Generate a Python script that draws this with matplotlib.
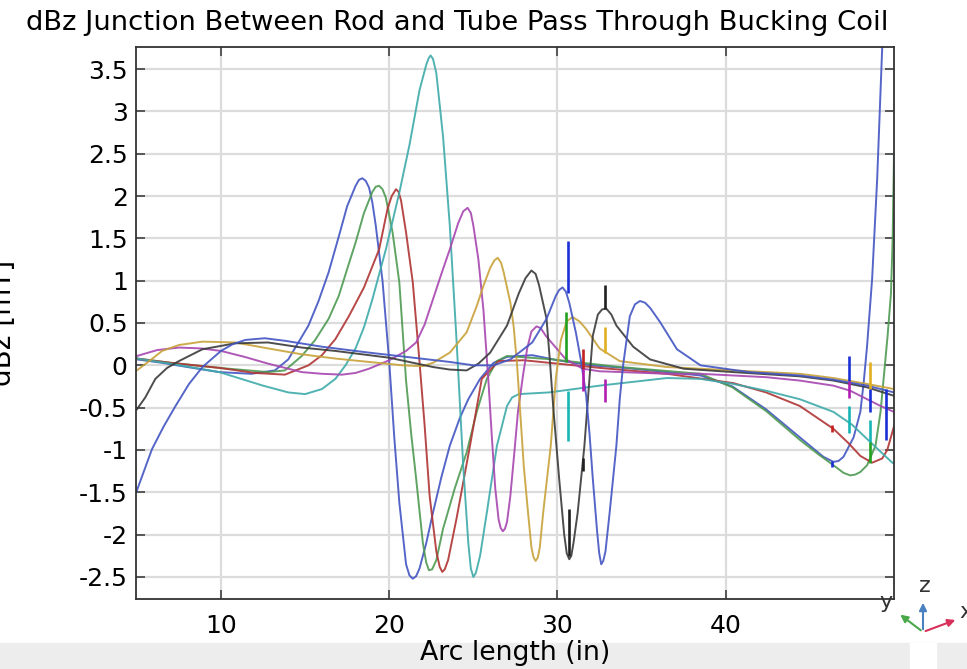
"""
dBz along the arc for the rod/tube junction as it passes through the bucking coil.
"""

import matplotlib
matplotlib.use("Agg")
import matplotlib.pyplot as plt
from matplotlib.patches import FancyArrowPatch, Rectangle

# one curve per junction position, arc length in inches, dBz in mT
CURVE1_ARC = [5, 6.5, 8, 9.9, 11.8, 13.2, 14.0, 14.6, 15.2, 15.8, 16.4, 17.0, 17.5,
              18.0, 18.2, 18.4, 18.6, 18.8, 19.0, 19.2, 19.6, 20.0, 20.3, 20.6, 21.0,
              21.2, 21.4, 21.6, 21.8, 22.2, 22.6, 23.1, 23.6, 24.2, 24.7, 25.4, 26.2,
              27.0, 28.5, 30.0, 32.0, 34.0, 36.5, 38.5, 40.4, 42.4, 44.4, 45.8, 46.4,
              46.7, 47.0, 47.6, 48.0, 48.2, 48.4, 48.7, 49.0, 49.3, 49.4]
CURVE1_DBZ = [0.07, 0.03, -0.02, -0.08, -0.10, -0.06, 0.07, 0.27, 0.47, 0.76, 1.10,
              1.52, 1.88, 2.12, 2.19, 2.21, 2.18, 2.10, 1.92, 1.65, 1.00, 0.04, -0.85,
              -1.62, -2.35, -2.48, -2.52, -2.49, -2.40, -2.10, -1.74, -1.32, -0.95,
              -0.62, -0.40, -0.16, 0.03, 0.10, 0.12, 0.06, 0.00, -0.03, -0.08, -0.12,
              -0.25, -0.52, -0.85, -1.08, -1.14, -1.13, -1.08, -0.85, -0.55, -0.20,
              0.23, 1.02, 2.20, 3.76, 4.40]

CURVE2_ARC = [5, 7, 9.9, 12.8, 13.8, 14.8, 15.6, 16.4, 17.0, 17.6, 18.0, 18.5, 19.0,
              19.2, 19.4, 19.6, 19.8, 20.2, 20.6, 21.0, 21.3, 21.6, 22.0, 22.2, 22.36,
              22.55, 22.8, 23.2, 23.9, 24.6, 25.2, 25.8, 26.4, 27.0, 29.7, 33.7, 38.5,
              40.4, 42.4, 44.4, 45.5, 46.4, 47.0, 47.4, 47.7, 48.0, 48.4, 48.9, 49.2,
              49.42, 49.62, 49.82, 49.92, 50.0]
CURVE2_DBZ = [0.08, 0.03, -0.03, -0.08, -0.06, 0.11, 0.30, 0.55, 0.82, 1.20, 1.45,
              1.80, 2.05, 2.11, 2.12, 2.08, 1.98, 1.57, 0.98, -0.18, -0.80, -1.34,
              -2.10, -2.33, -2.42, -2.41, -2.30, -1.93, -1.45, -1.03, -0.55, -0.16,
              0.05, 0.11, 0.07, -0.02, -0.10, -0.26, -0.54, -0.88, -1.05, -1.18,
              -1.27, -1.30, -1.29, -1.26, -1.18, -0.95, -0.55, -0.08, 0.35, 0.85, 1.50,
              2.50]

CURVE3_ARC = [5, 7, 9.9, 12.0, 13.8, 15.2, 16.0, 16.8, 17.6, 18.5, 19.4, 19.9, 20.15,
              20.4, 20.55, 20.7, 21.0, 21.4, 21.8, 22.1, 22.4, 22.8, 23.0, 23.15, 23.3,
              23.5, 24.0, 24.4, 24.8, 25.5, 26.5, 28.0, 30.0, 32.5, 36.5, 40.45, 42.4,
              44.4, 46.4, 47.3, 48.0, 48.7, 49.3, 49.6, 50.0]
CURVE3_DBZ = [0.08, 0.03, -0.03, -0.09, -0.11, 0.00, 0.12, 0.31, 0.58, 0.92, 1.37,
              1.85, 2.00, 2.08, 2.05, 1.95, 1.57, 0.98, 0.04, -0.70, -1.54, -2.20,
              -2.38, -2.44, -2.41, -2.30, -1.81, -1.38, -0.95, -0.16, 0.05, 0.06, 0.02,
              -0.03, -0.10, -0.21, -0.32, -0.48, -0.75, -0.92, -1.07, -1.15, -1.10,
              -1.00, -0.72]

CURVE4_ARC = [5, 7, 9.9, 12.5, 14.0, 15.0, 16.0, 16.8, 17.4, 18.0, 18.5, 19.0, 19.8,
              20.6, 21.2, 21.8, 22.2, 22.35, 22.46, 22.6, 22.8, 23.2, 23.6, 24.0, 24.4,
              24.7, 24.85, 25.0, 25.15, 25.4, 25.8, 26.4, 27.0, 27.3, 27.7, 29.5, 32.5,
              36.5, 38.5, 40.45, 42.4, 44.4, 46.4, 47.5, 48.4, 49.2, 49.9, 50.0]
CURVE4_DBZ = [0.08, 0.02, -0.08, -0.24, -0.32, -0.34, -0.28, -0.16, 0.00, 0.20, 0.45,
              0.78, 1.37, 2.04, 2.60, 3.25, 3.55, 3.63, 3.66, 3.62, 3.45, 2.70, 1.65,
              0.30, -1.20, -2.10, -2.40, -2.50, -2.45, -2.25, -1.74, -0.95, -0.48,
              -0.38, -0.34, -0.32, -0.24, -0.15, -0.16, -0.22, -0.30, -0.40, -0.55,
              -0.70, -0.87, -1.02, -1.15, -1.16]

CURVE5_ARC = [5, 6.2, 7.5, 8.8, 10.0, 11.4, 12.8, 14.8, 16.0, 17.2, 18.0, 18.8, 20.0,
              21.0, 21.6, 22.1, 22.6, 23.1, 23.6, 24.1, 24.4, 24.66, 24.85, 25.0, 25.3,
              25.6, 25.9, 26.1, 26.3, 26.5, 26.62, 26.75, 26.88, 27.0, 27.2, 27.45,
              27.65, 27.95, 28.2, 28.45, 28.75, 29.0, 29.3, 30.5, 31.5, 32.5, 36.5,
              38.5, 42.4, 44.4, 46.4, 47.4, 48.4, 49.2, 50.0]
CURVE5_DBZ = [0.11, 0.18, 0.21, 0.20, 0.17, 0.10, 0.02, -0.08, -0.10, -0.11, -0.09,
              -0.04, 0.06, 0.17, 0.27, 0.48, 0.78, 1.08, 1.37, 1.68, 1.82, 1.86, 1.80,
              1.65, 1.25, 0.65, -0.20, -0.85, -1.45, -1.82, -1.92, -1.96, -1.93, -1.85,
              -1.54, -1.00, -0.55, -0.12, 0.20, 0.40, 0.46, 0.44, 0.35, 0.07, -0.04,
              -0.07, -0.10, -0.10, -0.14, -0.18, -0.24, -0.30, -0.40, -0.48, -0.55]

CURVE6_ARC = [5, 5.8, 6.5, 7.5, 8.9, 10.85, 12.8, 14.8, 16.8, 18.8, 20.8, 22.0, 22.6,
              23.6, 24.6, 25.2, 25.6, 26.0, 26.25, 26.45, 26.65, 26.8, 27.2, 27.4, 27.6,
              27.8, 28.0, 28.25, 28.45, 28.58, 28.7, 28.83, 28.95, 29.15, 29.4, 29.6,
              29.9, 30.2, 30.55, 30.9, 31.3, 31.7, 32.5, 33.7, 36.5, 40.45, 44.4, 46.4,
              48.4, 50.0]
CURVE6_DBZ = [-0.06, 0.06, 0.17, 0.24, 0.28, 0.27, 0.20, 0.13, 0.08, 0.04, 0.00,
              -0.01, 0.03, 0.15, 0.39, 0.70, 0.94, 1.15, 1.24, 1.27, 1.21, 1.10, 0.74,
              0.45, 0.00, -0.60, -1.20, -1.74, -2.15, -2.27, -2.31, -2.27, -2.15,
              -1.74, -1.30, -0.95, -0.16, 0.30, 0.52, 0.57, 0.52, 0.43, 0.20, 0.05,
              -0.02, -0.06, -0.10, -0.15, -0.22, -0.28]

CURVE7_ARC = [5, 5.5, 6.1, 6.8, 7.5, 8.9, 10.85, 12.8, 14.8, 16.8, 20.0, 22.6, 23.6,
              24.6, 25.3, 26.0, 27.0, 27.7, 28.1, 28.45, 28.7, 28.9, 29.35, 29.55,
              29.75, 30.1, 30.4, 30.55, 30.7, 30.82, 30.95, 31.2, 31.6, 31.9, 32.1,
              32.4, 32.65, 32.9, 33.2, 33.5, 34.5, 35.5, 37.5, 40.45, 44.4, 46.4, 48.4,
              50.0]
CURVE7_DBZ = [-0.52, -0.38, -0.16, -0.03, 0.05, 0.19, 0.26, 0.27, 0.21, 0.17, 0.09,
              -0.02, -0.05, -0.06, 0.02, 0.15, 0.47, 0.85, 1.03, 1.12, 1.08, 0.95,
              0.55, 0.05, -0.50, -1.34, -2.00, -2.22, -2.29, -2.25, -2.10, -1.74,
              -0.95, -0.16, 0.35, 0.60, 0.66, 0.67, 0.60, 0.47, 0.22, 0.07, -0.04,
              -0.08, -0.13, -0.18, -0.26, -0.36]

CURVE8_ARC = [5, 5.9, 6.6, 7.3, 8.1, 8.9, 10.0, 10.7, 11.45, 12.6, 13.8, 16.0, 18.8,
              21.0, 23.6, 25.0, 26.2, 27.2, 28.5, 29.35, 29.9, 30.1, 30.3, 30.5, 30.7,
              31.1, 31.4, 31.7, 31.9, 32.1, 32.35, 32.48, 32.6, 32.72, 32.85, 33.1,
              33.5, 33.7, 33.9, 34.3, 34.6, 34.9, 35.2, 35.5, 36.1, 37.1, 38.5, 41.4,
              44.4, 46.4, 48.4, 50.0]
CURVE8_DBZ = [-1.48, -0.99, -0.72, -0.48, -0.22, -0.02, 0.17, 0.25, 0.30, 0.32, 0.29,
              0.22, 0.15, 0.10, 0.04, 0.00, 0.00, 0.07, 0.27, 0.55, 0.82, 0.89, 0.92,
              0.87, 0.74, 0.38, 0.05, -0.35, -0.80, -1.34, -1.95, -2.22, -2.35, -2.31,
              -2.20, -1.74, -0.95, -0.40, 0.00, 0.58, 0.72, 0.76, 0.74, 0.68, 0.51,
              0.19, 0.00, -0.08, -0.12, -0.17, -0.24, -0.32]

CURVES = [
    (CURVE1_ARC, CURVE1_DBZ), (CURVE2_ARC, CURVE2_DBZ), (CURVE3_ARC, CURVE3_DBZ),
    (CURVE4_ARC, CURVE4_DBZ), (CURVE5_ARC, CURVE5_DBZ), (CURVE6_ARC, CURVE6_DBZ),
    (CURVE7_ARC, CURVE7_DBZ), (CURVE8_ARC, CURVE8_DBZ),
]

# short vertical jumps where the line crosses element boundaries
SPIKE_ARC = [30.6, 30.6, 30.5, 30.68, 31.5, 31.5, 31.5, 32.8, 32.8, 32.8,
             46.3, 46.3, 47.3, 47.3, 47.3, 48.6, 48.6, 48.6, 48.6, 49.5]
SPIKE_LOW = [0.85, -0.89, 0.04, -2.25, -0.04, -0.30, -1.25, 0.66, 0.15, -0.43,
             -0.79, -1.20, -0.18, -0.39, -0.80, -0.28, -0.55, -0.91, -1.15, -0.88]
SPIKE_HIGH = [1.47, -0.30, 0.63, -1.70, 0.19, -0.04, -1.10, 0.95, 0.45, -0.16,
              -0.71, -1.13, 0.11, -0.18, -0.48, 0.04, -0.28, -0.65, -0.91, -0.28]
SPIKE_COLOR = ["#1a2fd6", "#17b5b5", "#22a022", "#202020", "#c42020", "#b020b0",
               "#202020", "#202020", "#e0b020", "#b020b0",
               "#c42020", "#1a2fd6", "#1a2fd6", "#b020b0", "#17b5b5",
               "#e0b020", "#1a2fd6", "#17b5b5", "#22a022", "#1a2fd6"]

LINE_COLORS = ["#4255c2", "#4e9a52", "#b03434", "#3eaaaa",
               "#a646b0", "#c8a23a", "#3a3a3a", "#4255c2"]

Y_TICKS = [-2.5, -2, -1.5, -1, -0.5, 0, 0.5, 1, 1.5, 2, 2.5, 3, 3.5]
X_TICKS = [10, 20, 30, 40]


def create_line_plot() -> None:
    """Draw all junction curves on one axes and save to out.png."""
    fig = plt.figure(figsize=(9.67, 6.69), dpi=100)
    ax = fig.add_axes([136 / 967, 70 / 669, 758 / 967, 552 / 669])

    for (arc, dbz), color in zip(CURVES, LINE_COLORS):
        ax.plot(arc, dbz, color=color, lw=1.4, alpha=0.9)

    ax.vlines(SPIKE_ARC, SPIKE_LOW, SPIKE_HIGH, colors=SPIKE_COLOR, lw=1.9)

    ax.set_xlim(4.95, 50.0)
    ax.set_ylim(-2.76, 3.76)
    ax.set_xticks(X_TICKS)
    ax.set_yticks(Y_TICKS)
    ax.set_yticklabels([f"{v:g}" for v in Y_TICKS])

    ax.set_axisbelow(True)
    ax.grid(color="#dcdcdc", lw=1.6)
    for spine in ax.spines.values():
        spine.set_color("#333333")
        spine.set_linewidth(1.3)
    ax.tick_params(direction="in", length=6.5, width=1.1, color="#333333",
                   top=True, right=True, labelsize=18)
    ax.tick_params(axis="y", pad=6)
    ax.tick_params(axis="x", pad=11)

    ax.set_xlabel("Arc length (in)", fontsize=19.3, va="center")
    ax.xaxis.set_label_coords(0.5, -0.098)
    ax.set_ylabel("dBz [mT]", fontsize=20, va="center")
    ax.yaxis.set_label_coords(-0.175, 0.5)

    fig.text(457 / 967, 1 - 23 / 669,
             "dBz Junction Between Rod and Tube Pass Through Bucking Coil",
             fontsize=19.7, ha="center", va="center")

    # window strip along the bottom edge
    fig.add_artist(Rectangle((0, 0), 1, 26 / 669, transform=fig.transFigure,
                             color="#ededed", zorder=-1))
    fig.add_artist(Rectangle((910 / 967, 0), 26 / 967, 26 / 669,
                             transform=fig.transFigure, color="white", zorder=-1))

    # coordinate triad
    origin = (923 / 967, 1 - 632 / 669)
    tips = {
        "z": ((923 / 967, 1 - 600 / 669), "#4a80c0", (925 / 967, 1 - 586 / 669)),
        "x": ((958 / 967, 1 - 619 / 669), "#d8305a", (966 / 967, 1 - 612 / 669)),
        "y": ((898 / 967, 1 - 613 / 669), "#4aa84a", (886 / 967, 1 - 602 / 669)),
    }
    for name, (tip, color, text_pos) in tips.items():
        fig.add_artist(FancyArrowPatch(origin, tip, transform=fig.transFigure,
                                       arrowstyle="-|>", mutation_scale=11,
                                       color=color, lw=1.5))
        fig.text(text_pos[0], text_pos[1], name, fontsize=16, ha="center",
                 va="center", color="#333333")

    fig.savefig("out.png", dpi=100)


if __name__ == "__main__":
    create_line_plot()
